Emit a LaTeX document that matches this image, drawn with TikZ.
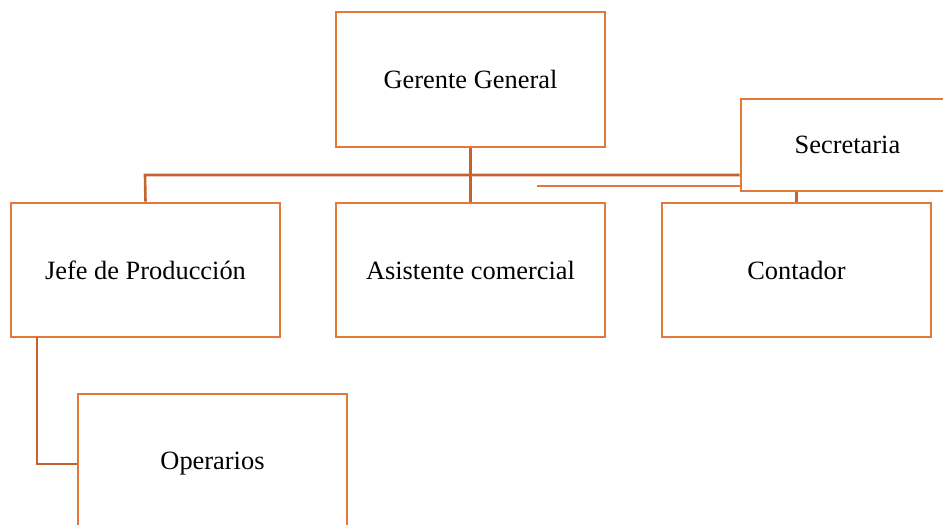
\documentclass[tikz,border=0pt]{standalone}
\usepackage{fontspec}
\setmainfont{Liberation Serif}
\definecolor{boxorange}{HTML}{E2783A}
\definecolor{linkorange}{HTML}{C4642C}
\begin{document}
\begin{tikzpicture}[x=0.5pt,y=-0.5pt,
  orgbox/.style={draw=boxorange, line width=1.3pt, fill=white, rectangle, inner sep=0pt,
    font=\fontsize{13.2}{15}\selectfont},
  link/.style={draw=linkorange, line width=1.3pt},
  thinlink/.style={draw=boxorange, line width=0.7pt}]
\useasboundingbox (0,0) rectangle (943,525);
\clip (0,0) rectangle (943,525);
\node[orgbox, minimum width=134.5pt, minimum height=67.5pt] (gerente) at (470.5,79.5) {Gerente General};
\node[orgbox, minimum width=134.5pt, minimum height=67pt] (jefe) at (145.5,270) {Jefe de Producción};
\node[orgbox, minimum width=134.5pt, minimum height=67pt] (asistente) at (470.5,270) {Asistente comercial};
\node[orgbox, minimum width=134.5pt, minimum height=67pt] (contador) at (796.5,270) {Contador};
\node[orgbox, minimum width=106.5pt, minimum height=46pt] (secretaria) at (847.5,145) {Secretaria};
\node[orgbox, minimum width=134.5pt, minimum height=70pt] (operarios) at (212.5,464) {Operarios};
\coordinate (hl) at (145,175);
\coordinate (tl) at (537,186);
\coordinate (jo) at (37,337);
\draw[link] (gerente.south) -- (asistente.north);
\draw[link] (jefe.north) -- (hl) -- (secretaria.west |- hl);
\draw[thinlink] (tl) -- (secretaria.west |- tl);
\draw[link] (contador.north |- secretaria.south) -- (contador.north);
\draw[link] (jo) |- (operarios.west);
\end{tikzpicture}
\end{document}
